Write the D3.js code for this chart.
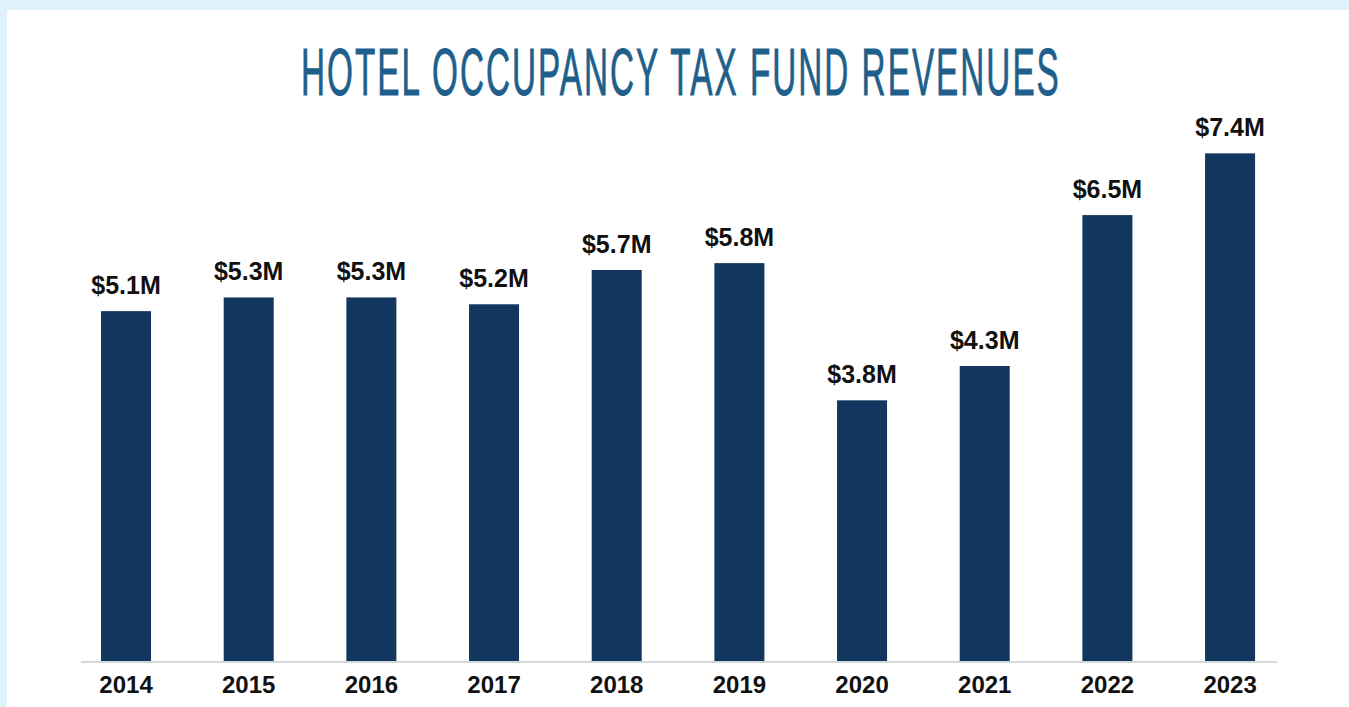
<!DOCTYPE html>
<html>
<head>
<meta charset="utf-8">
<script src="https://cdn.jsdelivr.net/npm/d3@7"></script>
<style>
  html, body { margin: 0; padding: 0; background: #dff2fb; }
  svg { display: block; }
</style>
</head>
<body>
<svg id="chart" width="1349" height="707"></svg>
<script>
// Hotel occupancy tax fund revenues, in millions of dollars
const years = ["2014", "2015", "2016", "2017", "2018", "2019", "2020", "2021", "2022", "2023"];
const revenues = [5.1, 5.3, 5.3, 5.2, 5.7, 5.8, 3.8, 4.3, 6.5, 7.4];
const valueLabels = ["$5.1M", "$5.3M", "$5.3M", "$5.2M", "$5.7M", "$5.8M", "$3.8M", "$4.3M", "$6.5M", "$7.4M"];
const chartTitle = "HOTEL OCCUPANCY TAX FUND REVENUES";

const data = years.map((y, i) => ({ year: y, value: revenues[i], label: valueLabels[i] }));

const W = 1349, H = 707;
const svg = d3.select("#chart");

// page background and white card
svg.append("rect").attr("width", W).attr("height", H).attr("fill", "#dff2fb");
svg.append("rect").attr("x", 7).attr("y", 10).attr("width", W - 7).attr("height", H - 10).attr("fill", "#ffffff");

// title: narrow face, squeezed horizontally to a tall condensed look
const titleLeft = 301, titleWidth = 758;
const titleG = svg.append("g");
const title = titleG.append("text")
  .attr("x", 0).attr("y", 0)
  .attr("font-family", "'Liberation Sans Narrow', 'Arial Narrow', sans-serif")
  .attr("font-size", 66)
  .attr("letter-spacing", 4)
  .attr("fill", "#1f5f8b")
  .attr("stroke", "#1f5f8b")
  .attr("stroke-width", 0.9)
  .text(chartTitle);
const natural = title.node().getComputedTextLength() - 4;
const sx = titleWidth / natural;
titleG.attr("transform", `translate(${titleLeft},95) scale(${sx},1)`);

const baseY = 661;
const x = d3.scaleBand()
  .domain(years)
  .range([64.7, 1291.4])
  .paddingInner(0.5924)
  .paddingOuter(0.2962);

const y = d3.scaleLinear().domain([0, 8]).range([baseY, baseY - 8 * 68.6]);

// bars
svg.append("g").selectAll("rect")
  .data(data)
  .join("rect")
  .attr("x", d => x(d.year))
  .attr("y", d => y(d.value))
  .attr("width", x.bandwidth())
  .attr("height", d => y(0) - y(d.value))
  .attr("fill", "#11365f");

// value labels
svg.append("g").selectAll("text")
  .data(data)
  .join("text")
  .attr("x", d => x(d.year) + x.bandwidth() / 2)
  .attr("y", d => y(d.value) - 17)
  .attr("text-anchor", "middle")
  .attr("font-family", "'Liberation Sans', Arial, sans-serif")
  .attr("font-weight", "bold")
  .attr("font-size", 25)
  .attr("fill", "#111111")
  .text(d => d.label);

// baseline
svg.append("line")
  .attr("x1", 81).attr("x2", 1277)
  .attr("y1", baseY + 1).attr("y2", baseY + 1)
  .attr("stroke", "#d3d8da")
  .attr("stroke-width", 2);

// year axis
const axis = svg.append("g")
  .attr("transform", `translate(0,${baseY})`)
  .call(d3.axisBottom(x).tickSize(0).tickPadding(0));
axis.select(".domain").remove();
axis.selectAll("text")
  .attr("dy", null)
  .attr("y", 31.5)
  .attr("font-family", "'Liberation Sans', Arial, sans-serif")
  .attr("font-weight", "bold")
  .attr("font-size", 24)
  .attr("fill", "#111111");
</script>
</body>
</html>
